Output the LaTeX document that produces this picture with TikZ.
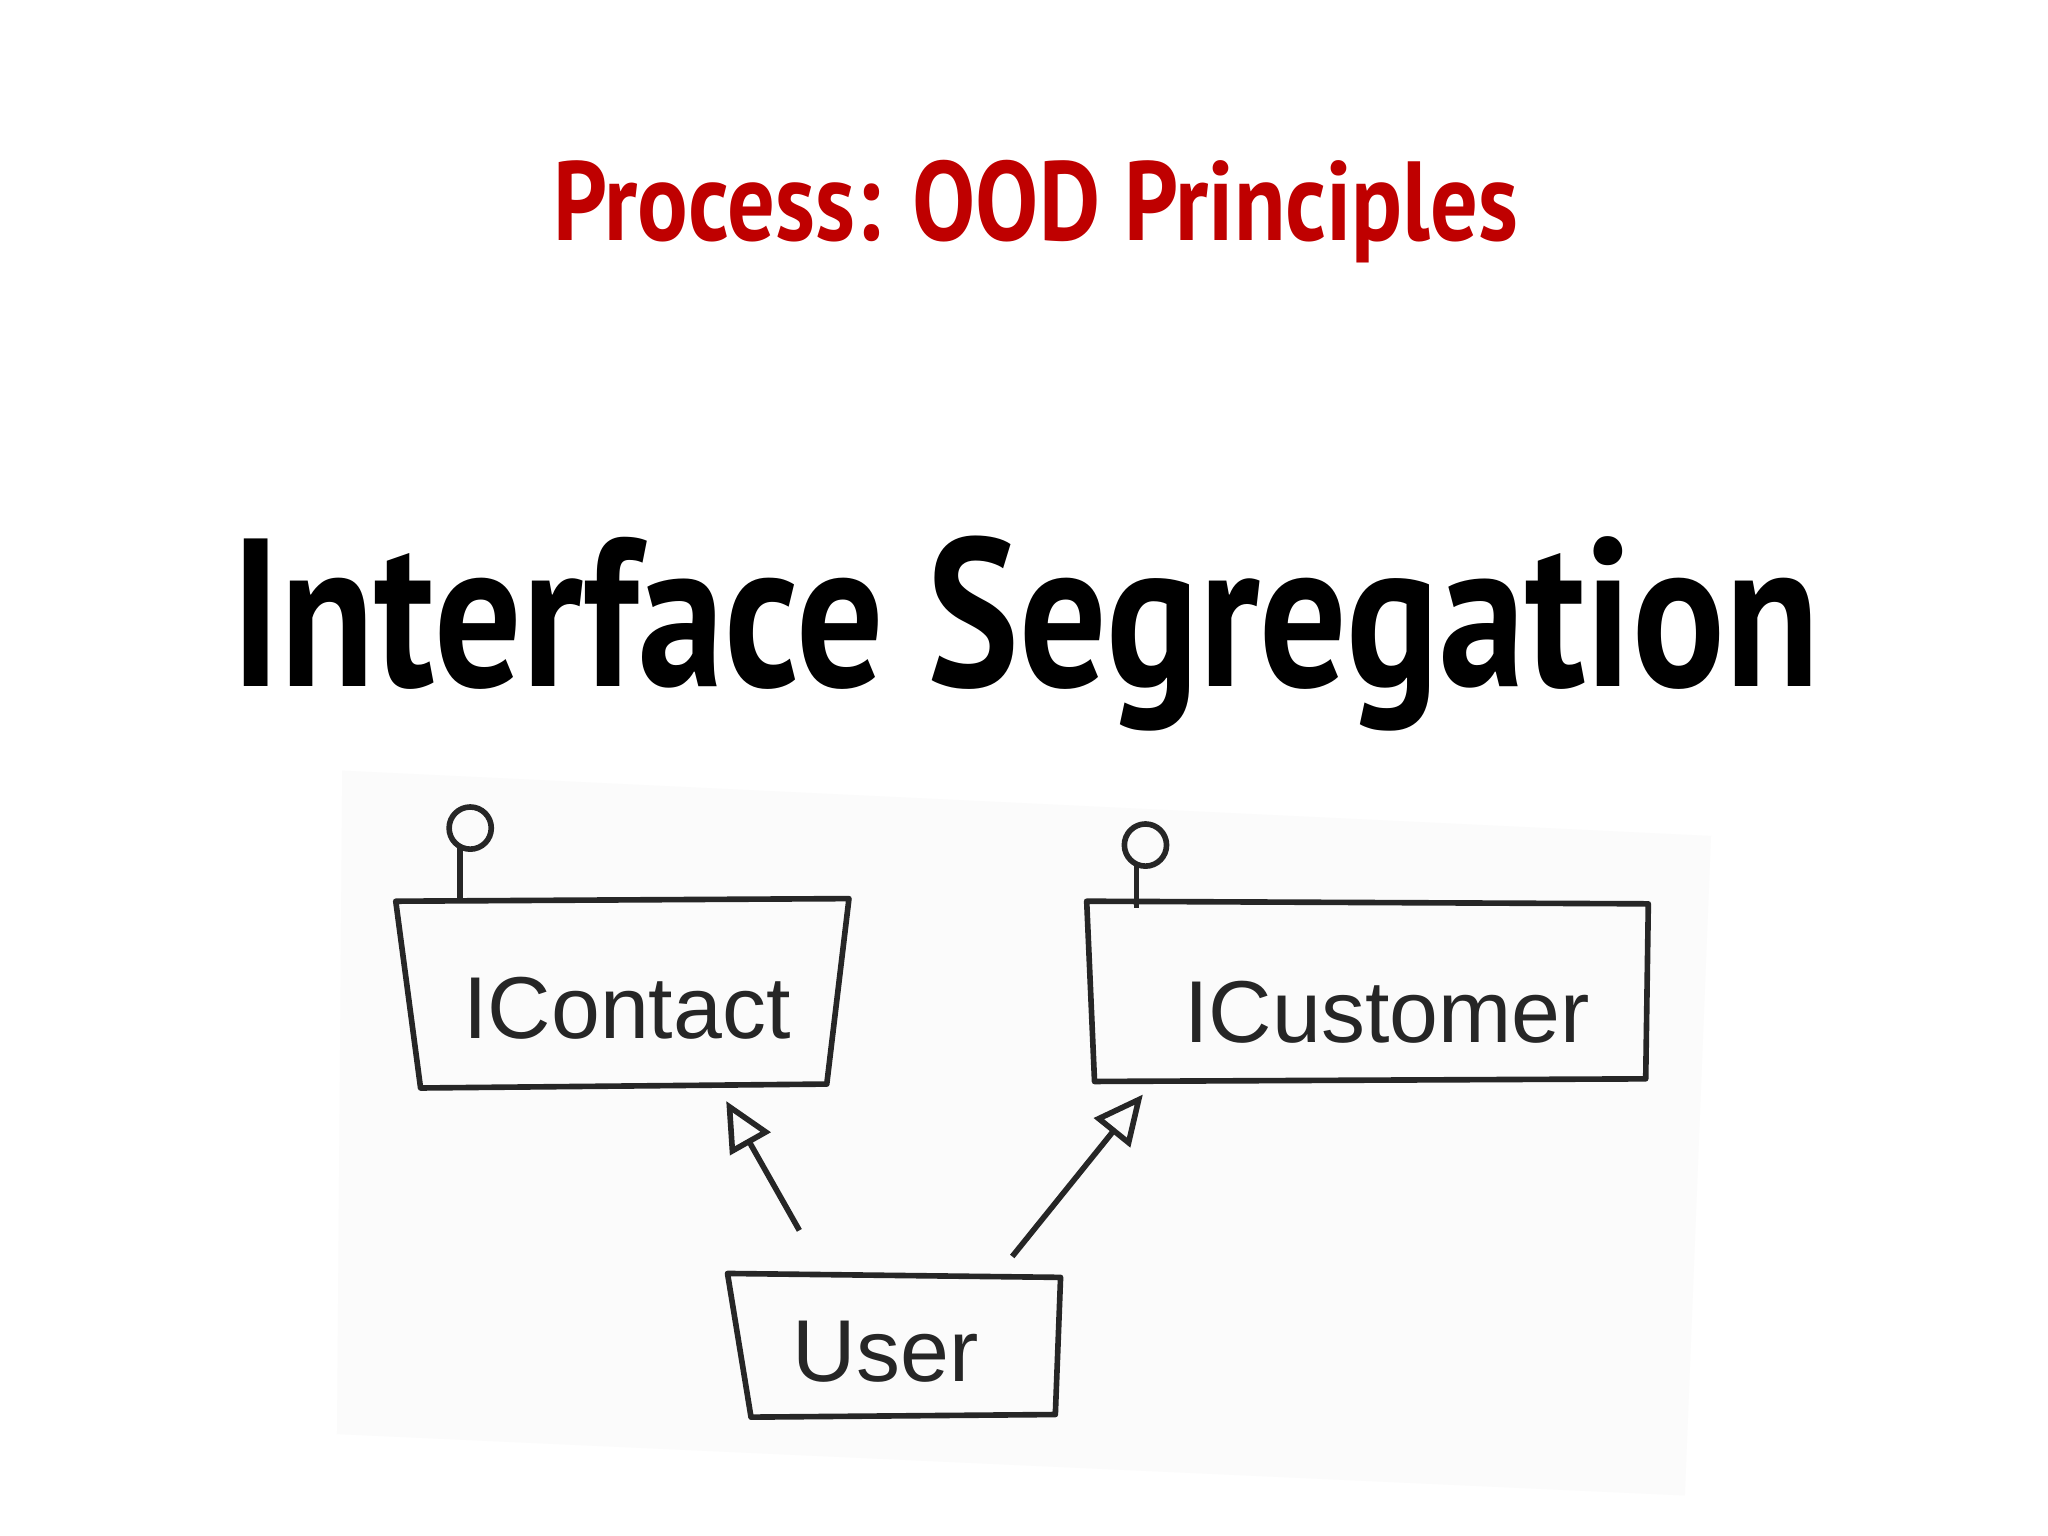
\documentclass[tikz,border=0pt]{standalone}
\usepackage{fontspec}
\setmainfont{PT Sans}
\newfontfamily\handfont{Liberation Sans}
\usetikzlibrary{arrows.meta}
\begin{document}
\begin{tikzpicture}[x=0.01306cm,y=-0.01306cm,
  sk/.style={draw=black!85,line width=1.6pt,line join=round},
  lbl/.style={font=\handfont\fontsize{25}{30}\selectfont,text=black!85},
  arr/.style={sk,-{Triangle[open,length=14pt,width=13pt]}}]
\useasboundingbox (0,0) rectangle (1568,1176);
\fill[white] (0,0) rectangle (1568,1176);
\fill[black!1.5] (262,590) -- (1310,640) -- (1290,1145) -- (258,1098) -- cycle;
\node[text=red!75!black,font=\bfseries\fontsize{32}{36}\selectfont,xscale=0.84] (t1) at (793,162) {Process: OOD Principles};
\node[font=\bfseries\fontsize{60}{66}\selectfont,xscale=0.82] (t2) at (785,485) {Interface Segregation};
% IContact
\draw[sk] (303,690) -- (650,688) -- (633,830) -- (322,833) -- cycle;
\node[lbl] (ic) at (480,772) {IContact};
\draw[sk] (352,688) -- (352,648);
\node[sk,circle,minimum size=12pt,inner sep=0pt] (lc) at (360,634) {};
% ICustomer
\draw[sk] (832,690) -- (1262,692) -- (1260,826) -- (838,828) -- cycle;
\node[lbl] (icu) at (1062,775) {ICustomer};
\draw[sk] (870,695) -- (870,660);
\node[sk,circle,minimum size=12pt,inner sep=0pt] (lcu) at (877,647) {};
% User
\draw[sk] (557,975) -- (812,978) -- (808,1083) -- (575,1085) -- cycle;
\node[lbl] (us) at (678,1035) {User};
\coordinate (u1) at (612,942);
\coordinate (u2) at (775,962);
\coordinate (h1) at (556,843);
\coordinate (h2) at (875,838);
\draw[arr] (u1) -- (h1);
\draw[arr] (u2) -- (h2);
\end{tikzpicture}
\end{document}
